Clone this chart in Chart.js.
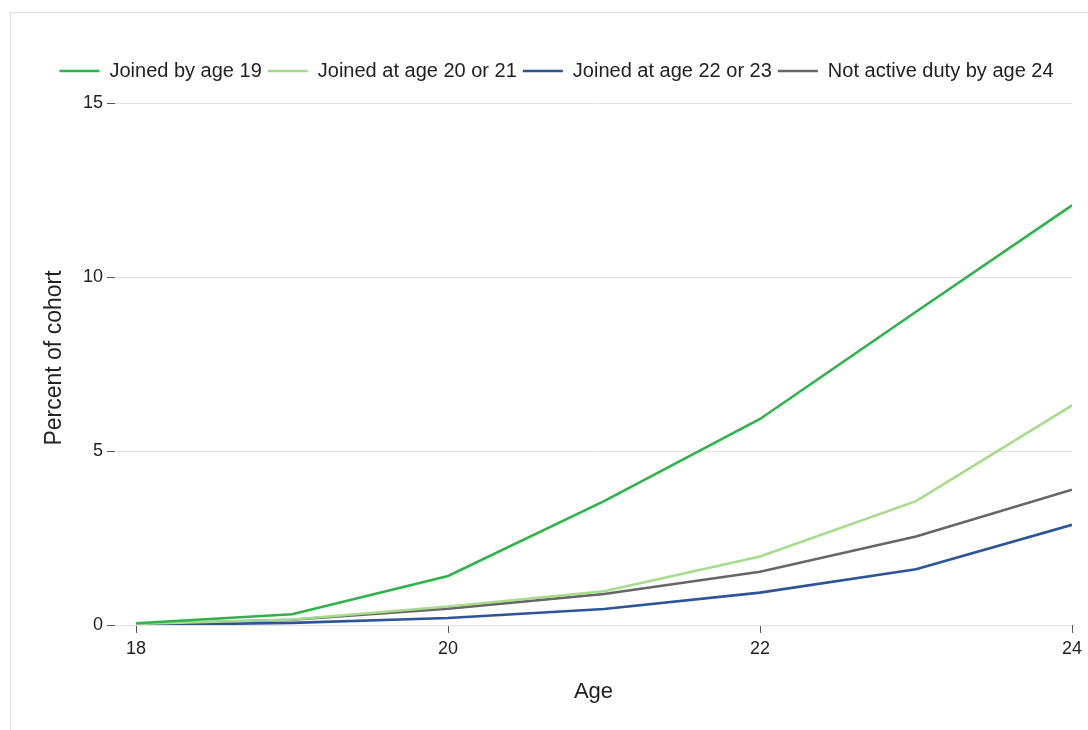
<!DOCTYPE html>
<html>
<head>
<meta charset="utf-8">
<script src="https://cdn.jsdelivr.net/npm/chart.js@4/dist/chart.umd.min.js"></script>
<style>
  html, body { margin: 0; padding: 0; background: #fff; overflow: hidden; width: 1088px; height: 730px; }
  #frame { position: absolute; left: 10px; top: 12px; width: 1200px; height: 900px; border: 1px solid #dedede; box-sizing: border-box; }
  #c { position: absolute; left: 0; top: 0; }
</style>
</head>
<body>
<div id="frame"></div>
<canvas id="c" width="1088" height="730"></canvas>
<script>
const ages = [18, 19, 20, 21, 22, 23, 24];
const joinedBy19 = [0.05, 0.31, 1.41, 3.56, 5.92, 9.0, 12.06];
const joined20or21 = [0.03, 0.16, 0.53, 0.97, 1.97, 3.56, 6.31];
const joined22or23 = [0.0, 0.06, 0.2, 0.46, 0.93, 1.6, 2.88];
const notActiveBy24 = [0.03, 0.15, 0.47, 0.89, 1.53, 2.54, 3.89];
const seriesNames = ['Joined by age 19', 'Joined at age 20 or 21', 'Joined at age 22 or 23', 'Not active duty by age 24'];
const xTicks = [18, 20, 22, 24];
const yTicks = [0, 5, 10, 15];

const colors = ['#2db34a', '#a7dc8b', '#2c5497', '#666666'];
const series = [joinedBy19, joined20or21, joined22or23, notActiveBy24];

Chart.defaults.font.family = "'Liberation Sans', Arial, sans-serif";
Chart.defaults.color = '#222';

const datasets = series.map((vals, i) => ({
  label: seriesNames[i],
  data: ages.map((a, j) => ({ x: a, y: vals[j] })),
  borderColor: colors[i],
  backgroundColor: colors[i],
  borderWidth: 2.6,
  pointRadius: 0,
  tension: 0,
  fill: false
}));

new Chart(document.getElementById('c'), {
  type: 'line',
  data: { datasets },
  options: {
    responsive: false,
    devicePixelRatio: 1,
    animation: false,
    layout: { padding: { left: 41, right: 16, top: 55, bottom: 0 } },
    plugins: {
      legend: {
        position: 'top',
        labels: {
          usePointStyle: true,
          pointStyle: 'line',
          pointStyleWidth: 40,
          padding: 6,
          font: { size: 20 },
          color: '#222'
        }
      },
      tooltip: { enabled: false }
    },
    scales: {
      x: {
        type: 'linear',
        min: 17.865,
        max: 24,
        afterBuildTicks: (s) => { s.ticks = xTicks.map(v => ({ value: v })); },
        afterFit: (s) => { s.height = 105; },
        border: { display: false },
        grid: { drawOnChartArea: false, drawTicks: true, tickLength: 8, tickColor: '#555', tickWidth: 1 },
        ticks: { font: { size: 18 }, color: '#222', padding: 5, maxRotation: 0 },
        title: { display: true, text: 'Age', font: { size: 22 }, color: '#222', padding: { top: 0, bottom: 25 } }
      },
      y: {
        type: 'linear',
        min: 0,
        max: 15.345,
        afterBuildTicks: (s) => { s.ticks = yTicks.map(v => ({ value: v })); },
        afterFit: (s) => { s.width = 74; },
        border: { display: false },
        grid: { color: '#e2e2e2', lineWidth: 1, drawTicks: true, tickLength: 8, tickColor: '#555', tickWidth: 1 },
        ticks: { font: { size: 18 }, color: '#222', padding: 4 },
        title: { display: true, text: 'Percent of cohort', font: { size: 23 }, color: '#222', padding: { top: 0, bottom: 0 } }
      }
    }
  }
});
</script>
</body>
</html>
